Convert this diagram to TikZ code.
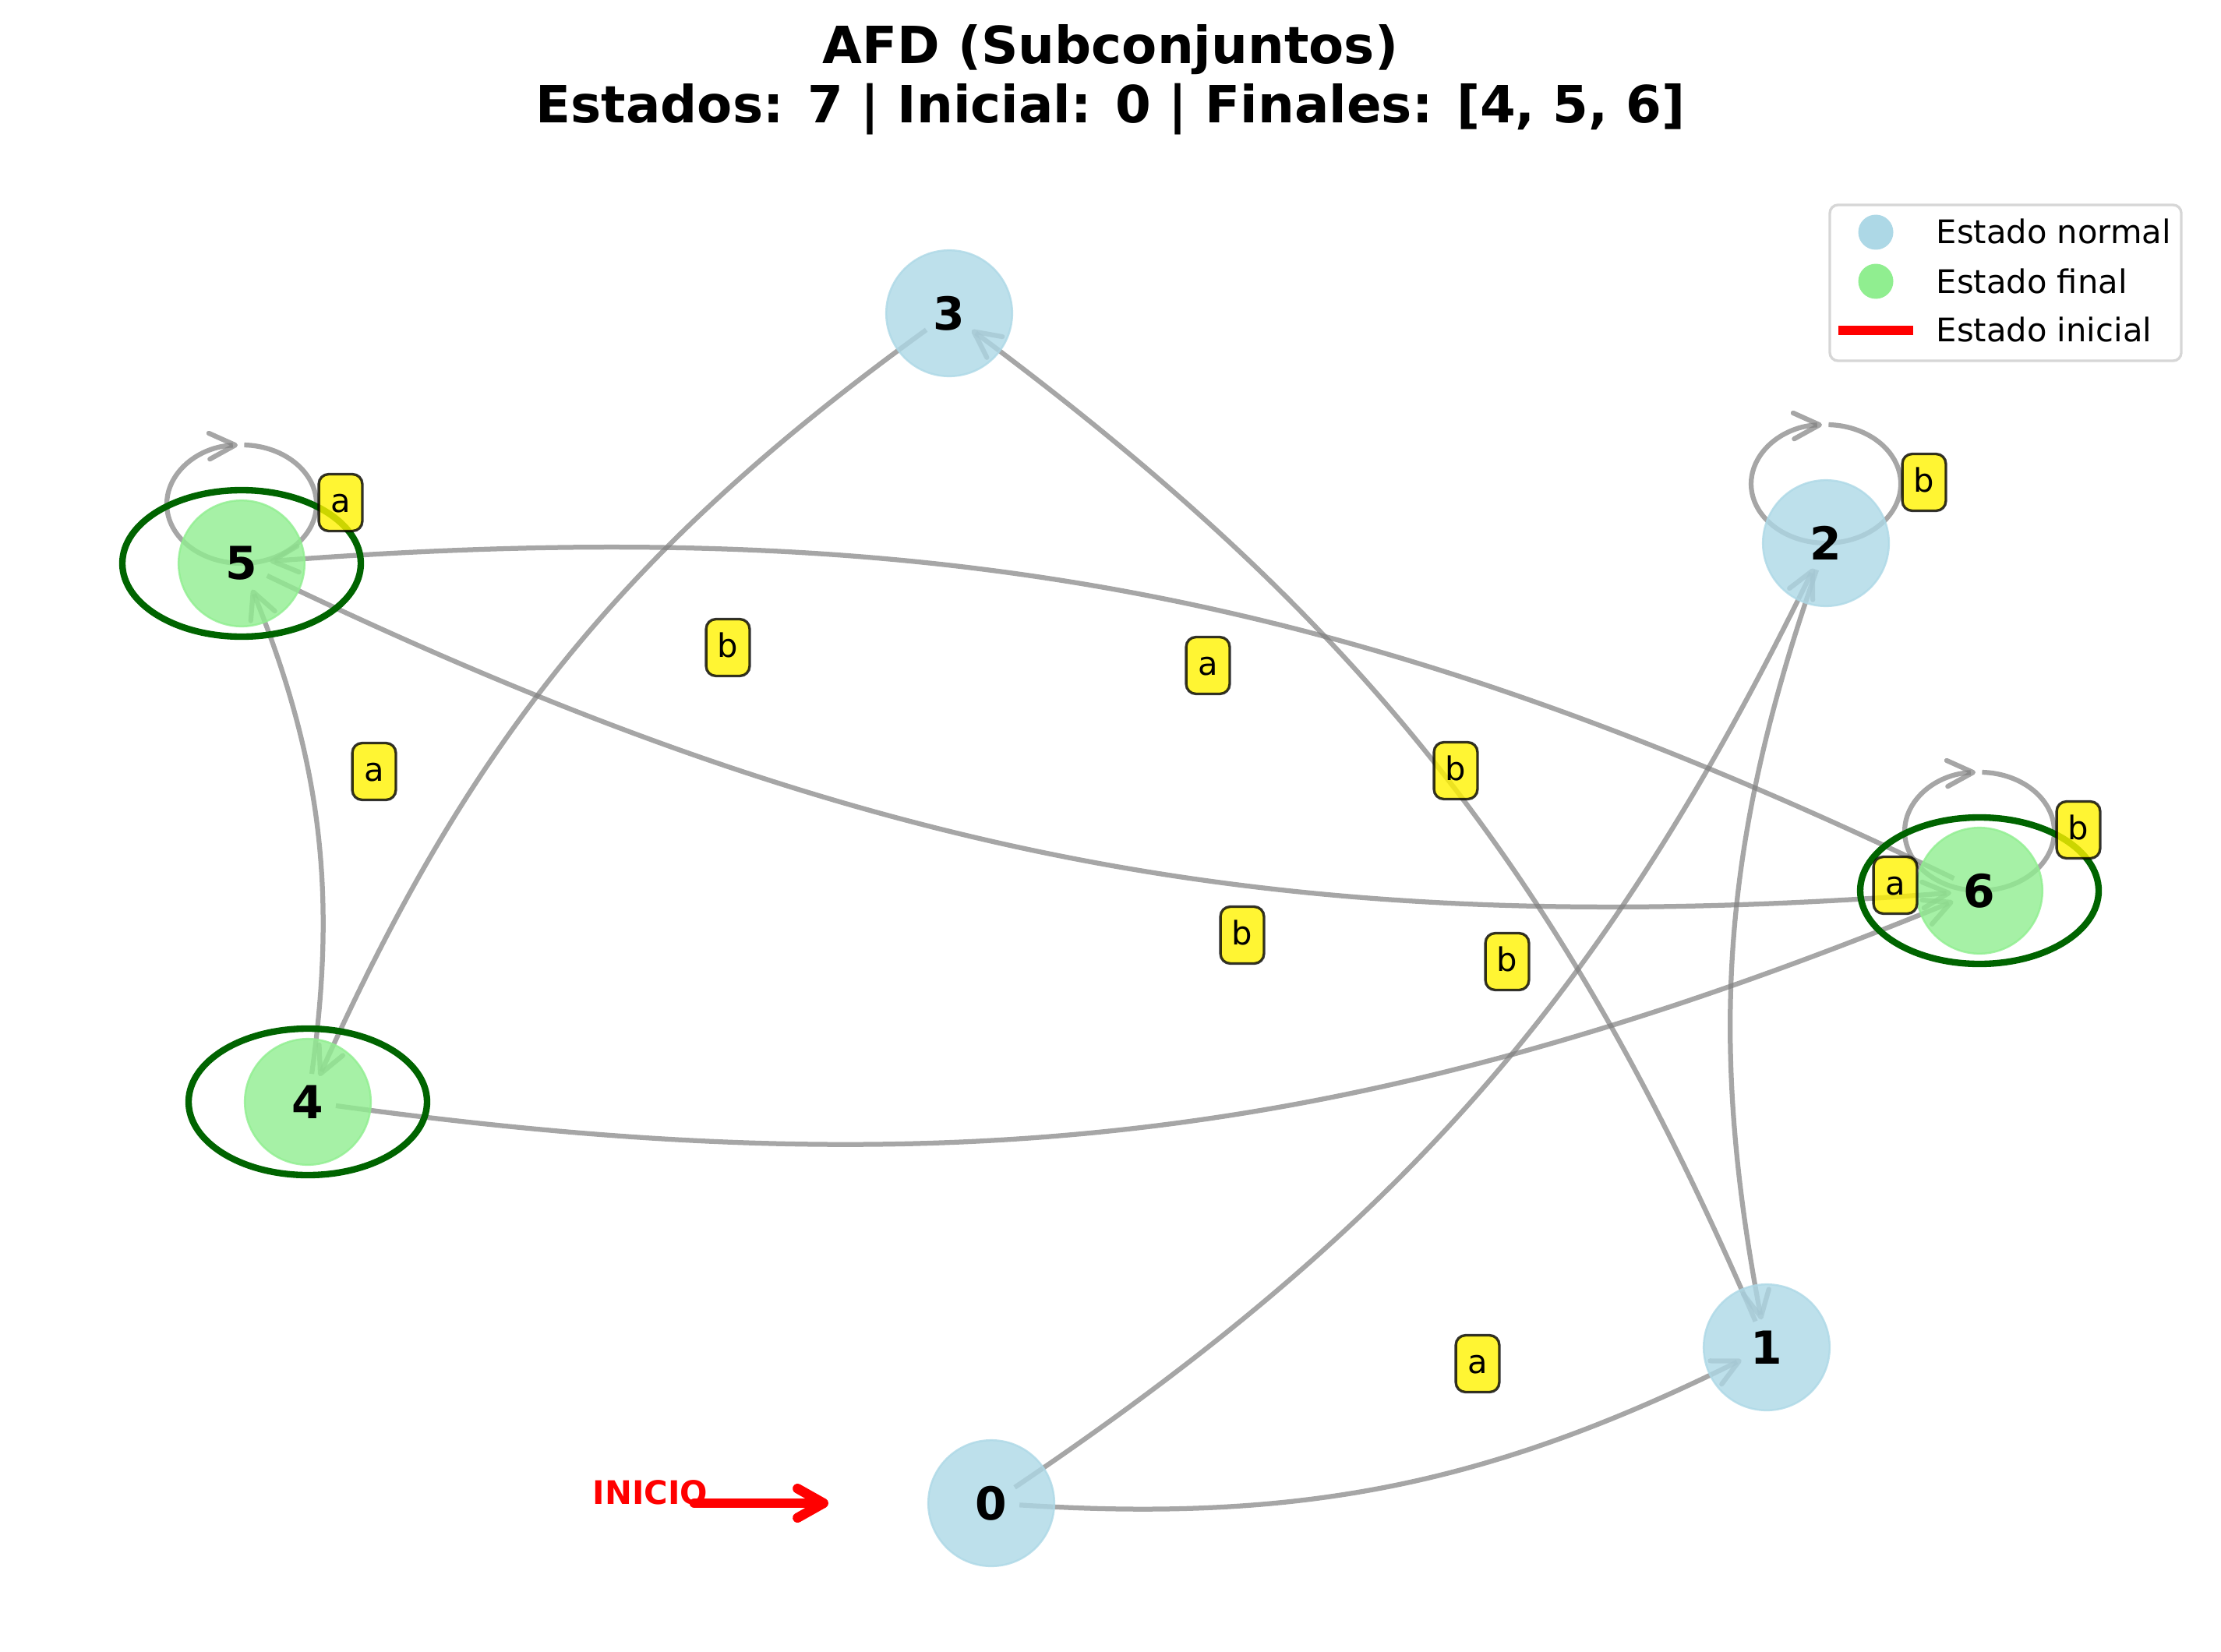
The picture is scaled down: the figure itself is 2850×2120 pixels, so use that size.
\documentclass[tikz,border=0pt]{standalone}
\usepackage{fontspec}
\setmainfont{DejaVu Sans}
\usetikzlibrary{arrows.meta,backgrounds}

\definecolor{azulclaro}{HTML}{ADD8E6}
\definecolor{verdeclaro}{HTML}{90EE90}
\definecolor{verdeoscuro}{HTML}{006400}
\definecolor{grisarista}{HTML}{808080}

\begin{document}
\begin{tikzpicture}[x=0.24pt,y=0.24pt,
    estado/.style={circle,minimum size=38.8pt,inner sep=0pt,line width=0.6pt,
        fill opacity=0.8,draw opacity=0.8,text opacity=1,
        font=\fontsize{14}{16}\selectfont\bfseries},
    normal/.style={estado,fill=azulclaro,draw=azulclaro},
    aceptacion/.style={estado,fill=verdeclaro,draw=verdeclaro},
    anillo/.style={draw=verdeoscuro,line width=2pt},
    trans/.style={draw=grisarista,draw opacity=0.7,line width=1.5pt,
        -{Straight Barb[length=8pt,width=8pt,round]}},
    arista/.style={trans,shorten <=8.7pt,shorten >=8.7pt},
    etiqueta/.style={draw=black,draw opacity=0.8,fill=yellow,fill opacity=0.8,
        text opacity=1,line width=0.8pt,rounded corners=3pt,inner sep=0pt,
        minimum width=13.4pt,minimum height=17.5pt,text height=8pt,text depth=2pt,
        font=\fontsize{10}{12}\selectfont},
    leyenda/.style={anchor=base west,inner sep=0pt,font=\fontsize{10}{12}\selectfont}
]
\useasboundingbox (0,0) rectangle (2850,-2120);

% titulo
\node[anchor=base,font=\fontsize{15.8}{19}\selectfont\bfseries] (titulo) at (1425,-82) {AFD (Subconjuntos)};
\node[anchor=base,font=\fontsize{15.8}{19}\selectfont\bfseries] (subtitulo) at (1425,-158) {Estados: 7 | Inicial: 0 | Finales: [4, 5, 6]};

% estados
\node[normal] (n0) at (1272,-1929) {0};
\node[normal] (n1) at (2267,-1729) {1};
\node[normal] (n2) at (2343,-697) {2};
\node[normal] (n3) at (1218,-402) {3};
\node[aceptacion] (n4) at (395,-1414) {4};
\node[aceptacion] (n5) at (310,-723) {5};
\node[aceptacion] (n6) at (2540,-1143) {6};

\begin{scope}[on background layer]
    % transiciones
    \draw[arista] (n0.center) to[bend right=15] (n1.center);
    \draw[arista] (n0.center) to[bend right=15] (n2.center);
    \draw[arista] (n1.center) to[bend right=15] (n3.center);
    \draw[arista] (n2.center) to[bend right=15] (n1.center);
    \draw[arista] (n3.center) to[bend right=15] (n4.center);
    \draw[arista] (n4.center) to[bend right=15] (n5.center);
    \draw[arista] (n4.center) to[bend right=15] (n6.center);
    \draw[arista] (n5.center) to[bend right=15] (n6.center);
    \draw[arista] (n6.center) to[bend right=15] (n5.center);
    % bucles
    \draw[trans] (n2.center) ++(3.4,152) arc[start angle=88,end angle=-267,x radius=96,y radius=76];
    \draw[trans] (n5.center) ++(3.4,152) arc[start angle=88,end angle=-267,x radius=96,y radius=76];
    \draw[trans] (n6.center) ++(3.4,152) arc[start angle=88,end angle=-267,x radius=96,y radius=76];
    % estados finales
    \draw[anillo] (n4.center) ellipse[x radius=153,y radius=94];
    \draw[anillo] (n5.center) ellipse[x radius=153,y radius=94];
    \draw[anillo] (n6.center) ellipse[x radius=153,y radius=94];
\end{scope}

% etiquetas
\node[etiqueta] (e55) at (437,-645) {a};
\node[etiqueta] (e22) at (2469,-619) {b};
\node[etiqueta] (e66) at (2667,-1065) {b};
\node[etiqueta] (e21) at (2432,-1136) {a};
\node[etiqueta] (e34) at (934,-831) {b};
\node[etiqueta] (e65) at (1550,-854) {a};
\node[etiqueta] (e45) at (480,-990) {a};
\node[etiqueta] (e13) at (1868,-989) {b};
\node[etiqueta] (e56) at (1594,-1200) {b};
\node[etiqueta] (e46) at (1934,-1234) {b};
\node[etiqueta] (e01) at (1896,-1750) {a};

% flecha inicial
\coordinate (ini) at (891,-1929);
\coordinate (fin) at (1063,-1929);
\draw[red,line width=3pt,line cap=round,-{Straight Barb[length=8pt,width=9pt,round]}] (ini) -- (fin);
\node[anchor=base east,inner sep=0pt,text=red,font=\fontsize{10}{12}\selectfont\bfseries] (inicio) at (909,-1930) {INICIO};

% leyenda
\draw[draw=black!16,fill=white,line width=0.8pt,rounded corners=2.5pt] (2348,-263) rectangle (2799,-463);
\node[circle,fill=azulclaro,minimum size=10.8pt,inner sep=0pt] (ley0) at (2407,-298) {};
\node[circle,fill=verdeclaro,minimum size=10.8pt,inner sep=0pt] (ley1) at (2407,-361) {};
\coordinate (ley2a) at (2359,-424);
\coordinate (ley2b) at (2455,-424);
\draw[red,line width=3pt] (ley2a) -- (ley2b);
\node[leyenda] (txt0) at (2484,-313) {Estado normal};
\node[leyenda] (txt1) at (2484,-377) {Estado final};
\node[leyenda] (txt2) at (2484,-438) {Estado inicial};
\end{tikzpicture}
\end{document}
